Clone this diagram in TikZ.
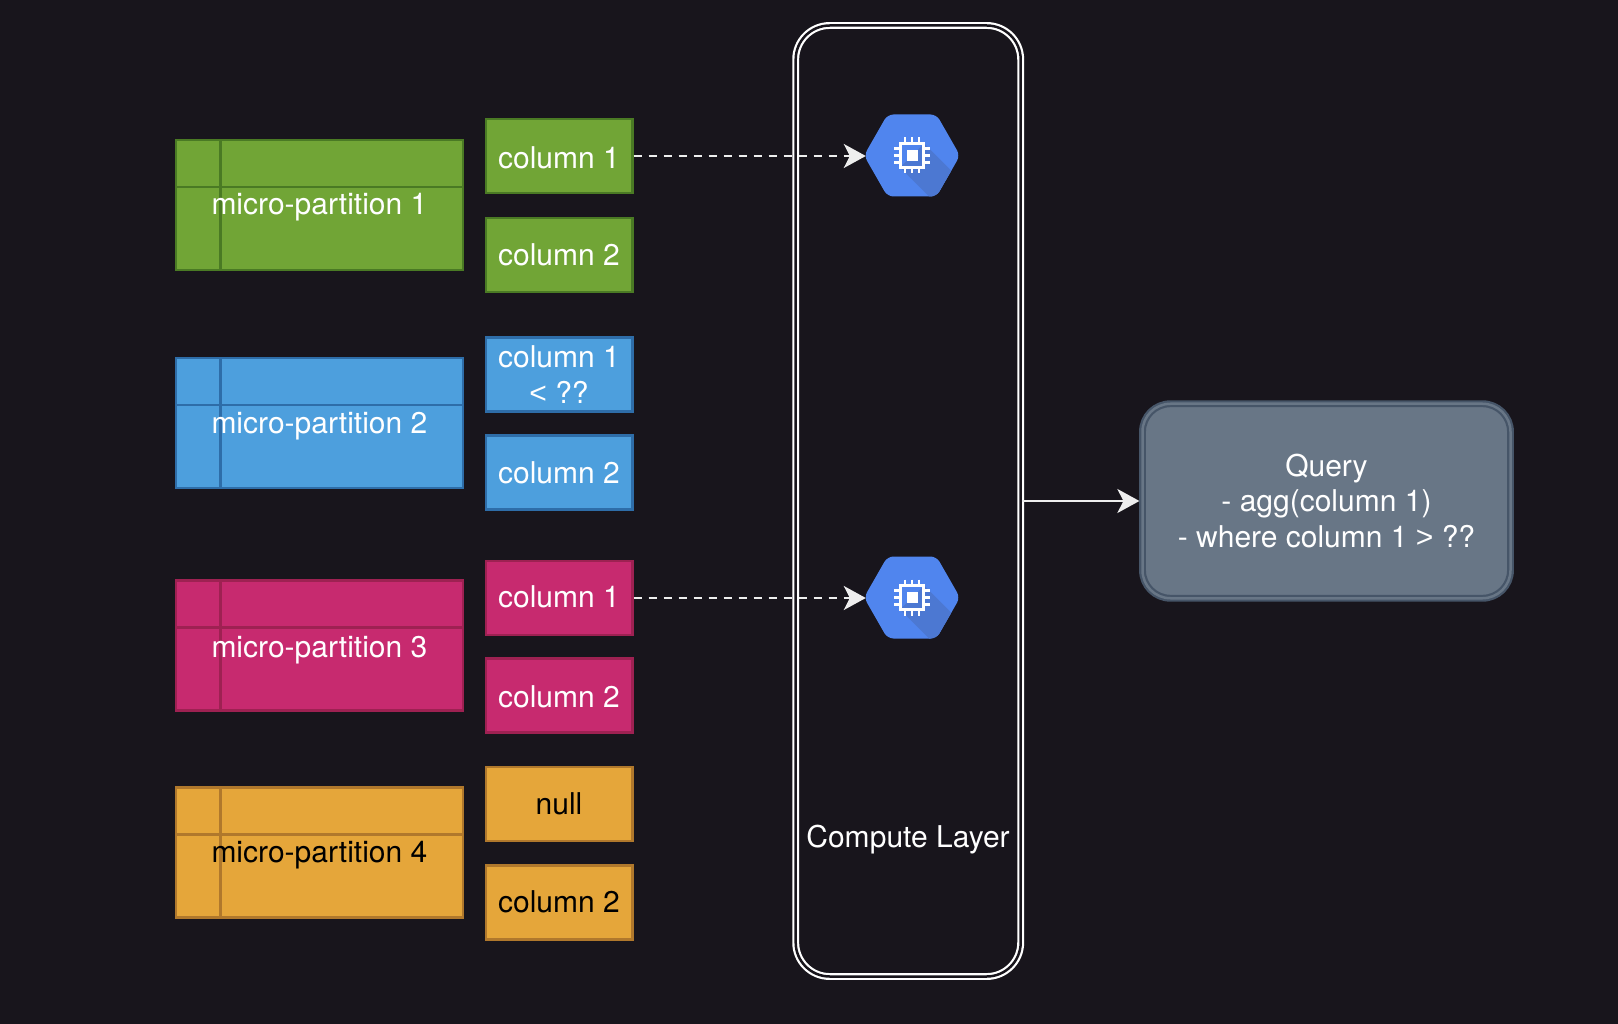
\documentclass[tikz,border=0pt]{standalone}
\usepackage{fontspec}
\usepackage{xcolor}
\usepackage{tikz}
\usetikzlibrary{arrows.meta}
\setmainfont{TeX Gyre Heros}
\newfontfamily\cmpfont{Liberation Sans}

\definecolor{pagebg}{HTML}{18151C}
\definecolor{greenfill}{HTML}{71A536}
\definecolor{greenline}{HTML}{4A7A24}
\definecolor{bluefill}{HTML}{4D9FDD}
\definecolor{blueline}{HTML}{2E6DA8}
\definecolor{pinkfill}{HTML}{C72A6F}
\definecolor{pinkline}{HTML}{9E2152}
\definecolor{amberfill}{HTML}{E5A63A}
\definecolor{amberline}{HTML}{B0782C}
\definecolor{queryfill}{HTML}{687686}
\definecolor{queryline}{HTML}{465568}
\definecolor{hexblue}{HTML}{5085EE}
\definecolor{hexshade}{HTML}{4C78D2}
\definecolor{linkgrey}{HTML}{EEEEEE}

\tikzset{
  lbl/.style={font=\fontsize{30}{35.5}\selectfont,align=center,text=white,inner sep=0pt,
    execute at begin node={\vrule height 30pt depth 0pt width 0pt},
    execute at end node={\vrule height 0pt depth #1 width 0pt}},
  lbl/.default=10pt,
  partbox/.style 2 args={draw=#2,fill=#1,line width=2.5pt,minimum width=287pt,minimum height=130pt,
    path picture={\draw[#2,line width=2.5pt]
      ([xshift=44.6pt]path picture bounding box.north west) -- ([xshift=44.6pt]path picture bounding box.south west)
      ([yshift=-47pt]path picture bounding box.north west) -- ([yshift=-47pt]path picture bounding box.north east);}},
  colbox/.style 2 args={draw=#2,fill=#1,line width=2.5pt,minimum width=146.5pt,minimum height=73.8pt},
  hexslot/.style={minimum width=92pt,minimum height=83pt,inner sep=0pt},
  flowdash/.style={linkgrey,line width=2pt,dash pattern=on 8pt off 7pt,-{Stealth[length=22pt,width=24pt,inset=6pt]}},
  flowline/.style={linkgrey,line width=2pt,shorten >=2pt,-{Stealth[length=22pt,width=24pt,inset=6pt]}},
  cpuhex/.pic={
    \fill[hexblue,rounded corners=6pt] (-48,0) -- (-24.5,-41) -- (24.5,-41) -- (48,0) -- (24.5,41) -- (-24.5,41) -- cycle;
    \begin{scope}
      \clip[rounded corners=6pt] (-48,0) -- (-24.5,-41) -- (24.5,-41) -- (48,0) -- (24.5,41) -- (-24.5,41) -- cycle;
      \fill[hexshade] (12,-12) -- (62,38) -- (38,62) -- (-12,12) -- cycle;
    \end{scope}
    \draw[white,line width=2.8pt] (-11.7,-11.7) rectangle (11.7,11.7);
    \fill[white] (-5.5,-5.5) rectangle (5.5,5.5);
    \draw[white,line width=2.8pt] (-18,-7) -- (-11,-7) (-18,0) -- (-11,0) (-18,7) -- (-11,7)
      (11,-7) -- (18,-7) (11,0) -- (18,0) (11,7) -- (18,7)
      (-7,-18) -- (-7,-11) (0,-18) -- (0,-11) (7,-18) -- (7,-11)
      (-7,11) -- (-7,18) (0,11) -- (0,18) (7,11) -- (7,18);
  }
}

\begin{document}
\begin{tikzpicture}[x=1pt,y=-1pt]
    \fill[pagebg] (0,0) rectangle (1618,1024);

    \node[draw=white,double=pagebg,double distance=2.5pt,line width=2.2pt,rounded corners=34pt,
      minimum width=225pt,minimum height=951pt] (compute) at (908.2,501) {};
    \node[lbl] (computelabel) at (908,837) {Compute Layer};

    \node[lbl,partbox={greenfill}{greenline}] (part1) at (319.4,205) {micro-partition 1};
    \node[lbl=4pt,colbox={greenfill}{greenline}] (col11) at (559,156) {column 1};
    \node[lbl=8pt,colbox={greenfill}{greenline}] (col12) at (559,255) {column 2};

    \node[lbl,partbox={bluefill}{blueline}] (part2) at (319.4,423) {micro-partition 2};
    \node[lbl=0pt,colbox={bluefill}{blueline}] (col21) at (559,374.5) {column 1\\{\cmpfont\textless} ??};
    \node[lbl=9pt,colbox={bluefill}{blueline}] (col22) at (559,472.5) {column 2};

    \node[lbl=6pt,partbox={pinkfill}{pinkline}] (part3) at (319.4,645.5) {micro-partition 3};
    \node[lbl=12pt,colbox={pinkfill}{pinkline}] (col31) at (559,598) {column 1};
    \node[lbl=7pt,colbox={pinkfill}{pinkline}] (col32) at (559,695.5) {column 2};

    \node[lbl,partbox={amberfill}{amberline},text=black] (part4) at (319.4,852.5) {micro-partition 4};
    \node[lbl,colbox={amberfill}{amberline},text=black] (col41) at (559,804) {null};
    \node[lbl,colbox={amberfill}{amberline},text=black] (col42) at (559,902.5) {column 2};

    \node[hexslot] (cpu1) at (912,156) {};
    \node[hexslot] (cpu2) at (912,598) {};
    \pic at ([yshift=0.5pt]cpu1) {cpuhex};
    \pic at ([yshift=0.5pt]cpu2) {cpuhex};

    \node[lbl=1pt,draw=queryline,double=queryfill,double distance=2.5pt,line width=2.2pt,fill=queryfill,
      rounded corners=28pt,minimum width=368pt,minimum height=194.5pt] (query) at (1326.5,501)
      {Query\\- agg(column 1)\\- where column 1 {\cmpfont\textgreater} ??};

    \draw[flowdash] (col11.east) -- (cpu1.west);
    \draw[flowdash] (col31.east) -- (cpu2.west);
    \draw[flowline] (compute.east) -- (query.west);
  \end{tikzpicture}
\end{document}
